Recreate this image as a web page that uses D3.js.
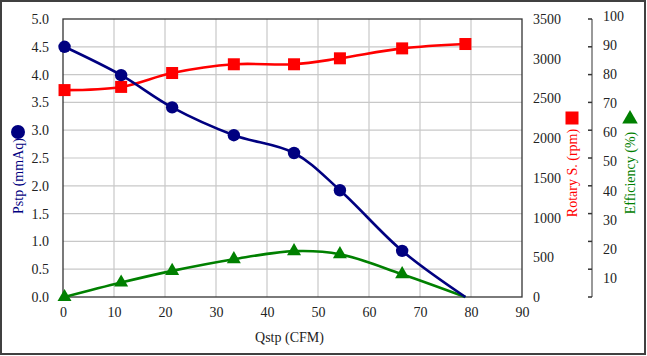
<!DOCTYPE html>
<html><head><meta charset="utf-8">
<script src="https://cdn.jsdelivr.net/npm/d3@7"></script>
<style>body{margin:0;background:#fff}svg{display:block}svg text{font-family:"Liberation Serif","Times New Roman",serif !important}</style>
</head><body>
<svg id="c" width="647" height="356"></svg>
<script>
const qstp = [0.3, 11.4, 21.4, 33.5, 45.3, 54.3, 66.5, 78.9];
const pstp = [4.5, 3.99, 3.41, 2.91, 2.59, 1.92, 0.83, 0];
const rpm = [2605, 2645, 2820, 2930, 2930, 3005, 3130, 3185];
const eff = [0, 5.2, 9.4, 13.6, 16.5, 15.4, 8.2, 0];
const xTicks = [0,10,20,30,40,50,60,70,80,90];
const pTicks = [0,0.5,1,1.5,2,2.5,3,3.5,4,4.5,5];
const rTicks = [0,500,1000,1500,2000,2500,3000,3500];
const eTicks = [10,20,30,40,50,60,70,80,90,100];

const FONT = "Liberation Serif, Times New Roman, serif";
const svg = d3.select("#c");
const L = 63, R = 522, T = 19, B = 297;
const x = d3.scaleLinear().domain([0,90]).range([L,R]);
const yP = d3.scaleLinear().domain([0,5]).range([B,T]);
const yR = d3.scaleLinear().domain([0,3500]).range([B,T]);
const yE = d3.scaleLinear().domain([0,100]).range([B,T]);
const yELabel = d3.scaleLinear().domain([10,100]).range([278,16]);
const navy = "#000080", red = "#ff0000", green = "#008000";

// outer frame
svg.append("rect").attr("x",1).attr("y",1).attr("width",644).attr("height",353)
  .attr("fill","#fff").attr("stroke","#404040").attr("stroke-width",2);

// grid
const g = svg.append("g");
g.selectAll(".vg").data(xTicks.slice(1,-1)).join("line")
  .attr("x1",d=>x(d)).attr("x2",d=>x(d)).attr("y1",T).attr("y2",B)
  .attr("stroke","#c8c8c8").attr("stroke-width",1.2);
g.selectAll(".hg").data(pTicks.slice(1,-1)).join("line")
  .attr("x1",L).attr("x2",R).attr("y1",d=>yP(d)).attr("y2",d=>yP(d))
  .attr("stroke","#c8c8c8").attr("stroke-width",1.2);
svg.append("rect").attr("x",L).attr("y",T).attr("width",R-L).attr("height",B-T)
  .attr("fill","none").attr("stroke","#333").attr("stroke-width",1.3);

function styleAxis(ax) {
  ax.attr("font-family", FONT);
  ax.select(".domain").remove();
  ax.selectAll("text").attr("font-size",14).attr("fill","#222").attr("font-family", FONT);
}
// left axis
styleAxis(svg.append("g").attr("transform",`translate(${L},0)`)
  .call(d3.axisLeft(yP).tickValues(pTicks).tickFormat(d3.format(".1f")).tickSize(0).tickPadding(14)));
// bottom axis
styleAxis(svg.append("g").attr("transform",`translate(0,${B})`)
  .call(d3.axisBottom(x).tickValues(xTicks).tickSize(0).tickPadding(10)));
// rpm axis
styleAxis(svg.append("g").attr("transform",`translate(${R},0)`)
  .call(d3.axisRight(yR).tickValues(rTicks).tickSize(0).tickPadding(11).tickFormat(d3.format("d"))));

// efficiency axis
const EX = 592;
svg.append("line").attr("x1",EX).attr("x2",EX).attr("y1",yE(100)).attr("y2",yE(0))
  .attr("stroke","#777").attr("stroke-width",1.5);
svg.selectAll(".et").data([0].concat(eTicks)).join("line")
  .attr("x1",EX-4).attr("x2",EX).attr("y1",d=>yE(d)).attr("y2",d=>yE(d))
  .attr("stroke","#333").attr("stroke-width",1.5);
svg.selectAll(".el").data(eTicks).join("text")
  .attr("x",603).attr("y",d=>yELabel(d)).attr("dy","0.35em").attr("font-family",FONT)
  .attr("font-size",14).attr("fill","#222").text(d=>d);

// axis titles
svg.append("text").attr("x",x(45)-3).attr("y",342).attr("text-anchor","middle").attr("font-family",FONT)
  .attr("font-size",14).attr("fill","#222").text("Qstp (CFM)");
svg.append("text").attr("transform","translate(23,176) rotate(-90)").attr("text-anchor","middle").attr("font-family",FONT)
  .attr("font-size",14).attr("fill",navy).text("Pstp (mmAq)");
svg.append("circle").attr("cx",18).attr("cy",132).attr("r",7).attr("fill",navy);
svg.append("text").attr("transform","translate(577,173) rotate(-90)").attr("text-anchor","middle").attr("font-family",FONT)
  .attr("font-size",14).attr("fill",red).text("Rotary S. (rpm)");
svg.append("rect").attr("x",565.5).attr("y",111.5).attr("width",13).attr("height",13).attr("fill",red);
svg.append("text").attr("transform","translate(635,173) rotate(-90)").attr("text-anchor","middle").attr("font-family",FONT)
  .attr("font-size",14).attr("fill",green).text("Efficiency (%)");
svg.append("path").attr("d",d3.symbol(d3.symbolTriangle,105)()).attr("transform","translate(630,119)").attr("fill",green);

// series
const curve = d3.curveCatmullRom.alpha(0.5);
const idx = d3.range(qstp.length);
function series(vals, scale, color, marker) {
  const line = d3.line().x(i=>x(qstp[i])).y(i=>scale(vals[i])).curve(curve);
  svg.append("path").attr("d",line(idx)).attr("fill","none").attr("stroke",color).attr("stroke-width",2.6);
  const pts = idx.slice(0, marker.count);
  marker.draw(svg.selectAll(null).data(pts).join(marker.tag), i=>x(qstp[i]), i=>scale(vals[i]), color);
}
series(rpm, yR, red, {count:8, tag:"rect", draw:(s,fx,fy,c)=>s.attr("x",i=>fx(i)-6).attr("y",i=>fy(i)-6).attr("width",12).attr("height",12).attr("fill",c)});
series(eff, yE, green, {count:7, tag:"path", draw:(s,fx,fy,c)=>s.attr("d",d3.symbol(d3.symbolTriangle,85)()).attr("transform",i=>`translate(${fx(i)},${fy(i)})`).attr("fill",c)});
series(pstp, yP, navy, {count:7, tag:"circle", draw:(s,fx,fy,c)=>s.attr("cx",fx).attr("cy",fy).attr("r",6.2).attr("fill",c)});
</script>
</body></html>
